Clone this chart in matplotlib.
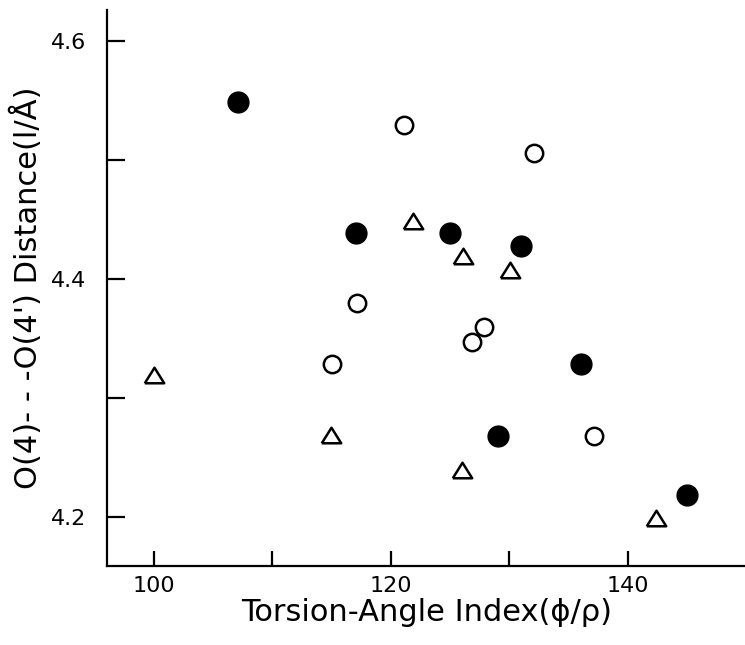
import matplotlib
matplotlib.use("Agg")
import matplotlib.pyplot as plt

# Filled circles
filled_x = [107.1, 117.1, 125.0, 131.0, 136.1, 129.1, 145.0]
filled_y = [4.549, 4.439, 4.439, 4.428, 4.329, 4.268, 4.219]
# Open circles
open_x = [121.1, 132.1, 117.2, 127.9, 126.9, 115.1, 137.2]
open_y = [4.529, 4.506, 4.380, 4.360, 4.347, 4.329, 4.268]
# Open triangles
tri_x = [100.0, 121.9, 126.1, 130.1, 115.0, 126.0, 142.4]
tri_y = [4.319, 4.449, 4.419, 4.408, 4.269, 4.240, 4.199]

x_major = [100, 120, 140]
x_minor = [110, 130]
y_major = [4.2, 4.4, 4.6]
y_minor = [4.3, 4.5]

fig = plt.figure(figsize=(7.45, 6.45), dpi=100)
ax = fig.add_axes([0.144, 0.1225, 0.856, 0.862])

tri_marker = [(-1, -0.8), (1, -0.8), (0, 0.8), (-1, -0.8)]

ax.plot(filled_x, filled_y, 'o', ms=15, color='black', mec='black', ls='none')
ax.plot(open_x, open_y, 'o', ms=12.5, mfc='white', mec='black', mew=1.8, ls='none')
ax.plot(tri_x, tri_y, marker=tri_marker, ms=14, mfc='white', mec='black', mew=1.8, ls='none')

ax.set_xlim(96.1, 149.9)
ax.set_ylim(4.159, 4.626)

for s in ['top', 'right']:
    ax.spines[s].set_visible(False)
for s in ['left', 'bottom']:
    ax.spines[s].set_linewidth(1.6)

ax.set_xticks(x_major)
ax.set_xticks(x_minor, minor=True)
ax.set_yticks(y_major)
ax.set_yticks(y_minor, minor=True)
ax.set_xticklabels([str(v) for v in x_major])
ax.set_yticklabels([f"{v:.1f}" for v in y_major])

ax.tick_params(axis='x', which='both', direction='in', length=11, width=1.6, labelsize=16, pad=7)
ax.tick_params(axis='y', which='both', direction='in', length=13, width=1.6, labelsize=16, pad=15)

ax.set_xlabel("Torsion-Angle Index(ϕ/ρ)", fontsize=22, labelpad=2)
ax.set_ylabel("O(4)- - -O(4') Distance(l/Å)", fontsize=22, labelpad=6)

fig.savefig("out.png", dpi=100)
